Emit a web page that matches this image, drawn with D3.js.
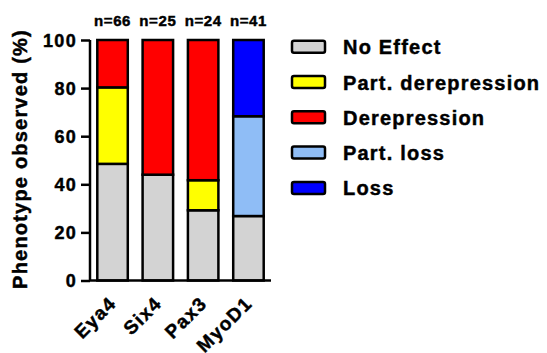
<!DOCTYPE html>
<html>
<head>
<meta charset="utf-8">
<script src="https://cdn.jsdelivr.net/npm/d3@7"></script>
<style>
  body { margin: 0; background: #fff; }
  svg text { font-family: Arial, "Liberation Sans", sans-serif; font-weight: bold; fill: #000; stroke: #000; stroke-width: 0.45px; }
</style>
</head>
<body>
<svg id="chart" width="547" height="353"></svg>
<script>
// data (percent of embryos per phenotype)
var genes = ["Eya4", "Six4", "Pax3", "MyoD1"];
var counts = ["n=66", "n=25", "n=24", "n=41"];
var phenotypes = ["No Effect", "Part. derepression", "Derepression", "Part. loss", "Loss"];
var noEffect = [48.5, 44.0, 29.2, 26.8];
var partDerepression = [31.8, 0, 12.5, 0];
var derepression = [19.7, 56.0, 58.3, 0];
var partLoss = [0, 0, 0, 41.5];
var loss = [0, 0, 0, 31.7];
var yTicks = [0, 20, 40, 60, 80, 100];

var colors = ["#d3d3d3", "#ffff00", "#ff0000", "#8fbdf6", "#0000ff"];

var svg = d3.select("#chart");

// rows for the stack
var rows = genes.map(function(g, i){
  return {
    gene: g,
    "No Effect": noEffect[i],
    "Part. derepression": partDerepression[i],
    "Derepression": derepression[i],
    "Part. loss": partLoss[i],
    "Loss": loss[i]
  };
});

var x = d3.scaleBand()
  .domain(genes)
  .range([90, 271])
  .paddingInner(0.327)
  .paddingOuter(0.161);

var y = d3.scaleLinear()
  .domain([0, 100])
  .range([280.5, 40]);

var series = d3.stack().keys(phenotypes)(rows);

// bars
svg.append("g").selectAll("g")
  .data(series)
  .join("g")
    .attr("fill", function(d, i){ return colors[i]; })
  .selectAll("rect")
  .data(function(d){ return d.filter(function(s){ return s[1] - s[0] > 0; }); })
  .join("rect")
    .attr("x", function(d){ return x(d.data.gene); })
    .attr("y", function(d){ return y(d[1]); })
    .attr("width", x.bandwidth())
    .attr("height", function(d){ return y(d[0]) - y(d[1]); })
    .attr("stroke", "#000")
    .attr("stroke-width", 2.5);

// y axis
var yAxis = svg.append("g")
  .attr("transform", "translate(90,0)")
  .call(d3.axisLeft(y).tickValues(yTicks).tickSize(9).tickPadding(4));
yAxis.select(".domain").attr("stroke-width", 2.5).attr("d", "M0," + y(0) + "V" + y(100));
yAxis.selectAll(".tick line").attr("stroke-width", 2.5);
yAxis.selectAll(".tick text")
  .style("font-size", "18px")
  .style("letter-spacing", "1.3px")
  .attr("dy", "0.36em");

// x axis (line only, rotated labels)
var xAxis = svg.append("g")
  .attr("transform", "translate(0," + y(0) + ")")
  .call(d3.axisBottom(x).tickSize(0).tickPadding(0));
xAxis.select(".domain").attr("stroke-width", 2.5).attr("d", "M89,0H271");
xAxis.selectAll(".tick text")
  .style("font-size", "19px")
  .style("letter-spacing", "1.4px")
  .attr("text-anchor", "end")
  .attr("dy", 0)
  .attr("y", 0)
  .attr("transform", "translate(5,24) rotate(-45)");

// n= counts above bars
svg.append("g").selectAll("text")
  .data(counts)
  .join("text")
    .attr("x", function(d, i){ return x(genes[i]) + x.bandwidth() / 2; })
    .attr("y", 26)
    .attr("text-anchor", "middle")
    .style("font-size", "15px")
    .style("letter-spacing", "0.6px")
    .text(function(d){ return d; });

// y title
svg.append("text")
  .attr("transform", "translate(26.5,159) rotate(-90)")
  .attr("text-anchor", "middle")
  .style("font-size", "20px")
  .style("letter-spacing", "1.2px")
  .text("Phenotype observed (%)");

// legend
var legend = svg.append("g").selectAll("g")
  .data(phenotypes)
  .join("g")
    .attr("transform", function(d, i){ return "translate(292," + (46.7 + i * 35.3) + ")"; });

legend.append("rect")
  .attr("x", 0)
  .attr("y", -6)
  .attr("width", 33)
  .attr("height", 12)
  .attr("rx", 2)
  .attr("fill", function(d, i){ return colors[i]; })
  .attr("stroke", "#000")
  .attr("stroke-width", 2.5);

legend.append("text")
  .attr("x", 51)
  .attr("y", 7.5)
  .style("font-size", "20px")
  .style("letter-spacing", "1.2px")
  .text(function(d){ return d; });
</script>
</body>
</html>
